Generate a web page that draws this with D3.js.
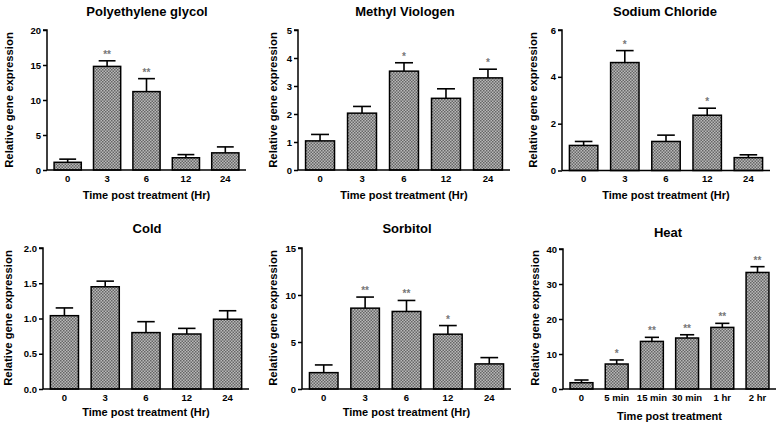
<!DOCTYPE html>
<html><head><meta charset="utf-8">
<script src="https://cdn.jsdelivr.net/npm/d3@7/dist/d3.min.js"></script>
<style>
html,body{margin:0;padding:0;background:#fff;}
svg{display:block;font-family:"Liberation Sans",Arial,sans-serif;}
</style></head>
<body>
<svg id="chart" width="776" height="428"></svg>
<script>
// ---------- data ----------
const hrCategories = ["0", "3", "6", "12", "24"];
const heatCategories = ["0", "5 min", "15 min", "30 min", "1 hr", "2 hr"];

const pegValues  = [1.1, 14.8, 11.2, 1.75, 2.45];
const pegErrors  = [0.45, 0.8, 1.85, 0.45, 0.85];
const pegStars   = ["", "**", "**", "", ""];
const pegTicks   = [0, 5, 10, 15, 20];

const mvValues   = [1.04, 2.03, 3.53, 2.56, 3.29];
const mvErrors   = [0.23, 0.24, 0.3, 0.34, 0.31];
const mvStars    = ["", "", "*", "", "*"];
const mvTicks    = [0, 1, 2, 3, 4, 5];

const naclValues = [1.07, 4.61, 1.24, 2.36, 0.55];
const naclErrors = [0.17, 0.51, 0.27, 0.3, 0.12];
const naclStars  = ["", "*", "", "*", ""];
const naclTicks  = [0, 2, 4, 6];

const coldValues = [1.04, 1.45, 0.8, 0.78, 0.99];
const coldErrors = [0.11, 0.08, 0.155, 0.08, 0.12];
const coldStars  = ["", "", "", "", ""];
const coldTicks  = [0, 0.5, 1.0, 1.5, 2.0];

const sorbValues = [1.74, 8.6, 8.25, 5.83, 2.67];
const sorbErrors = [0.82, 1.18, 1.17, 0.92, 0.67];
const sorbStars  = ["", "**", "**", "*", ""];
const sorbTicks  = [0, 5, 10, 15];

const heatValues = [1.8, 7.14, 13.6, 14.57, 17.6, 33.3];
const heatErrors = [0.77, 1.16, 1.16, 0.93, 1.16, 1.65];
const heatStars  = ["", "*", "**", "**", "**", "**"];
const heatTicks  = [0, 10, 20, 30, 40];

// ---------- layout ----------
const panels = [
  {title:"Polyethylene glycol", cats:hrCategories, vals:pegValues, errs:pegErrors, stars:pegStars, ticks:pegTicks, fmt:d3.format("d"),
   x0:47, x1:246, yTop:30, yBot:170, titleX:147, titleY:16, ytX:9, ytY:100, xtY:199, xlabel:"Time post treatment (Hr)", pi:0.31, po:0.18},
  {title:"Methyl Viologen", cats:hrCategories, vals:mvValues, errs:mvErrors, stars:mvStars, ticks:mvTicks, fmt:d3.format("d"),
   x0:298, x1:510, yTop:30, yBot:170, titleX:405, titleY:16, ytX:273, ytY:100, xtY:199, xlabel:"Time post treatment (Hr)", pi:0.31, po:0.18},
  {title:"Sodium Chloride", cats:hrCategories, vals:naclValues, errs:naclErrors, stars:naclStars, ticks:naclTicks, fmt:d3.format("d"),
   x0:562, x1:770, yTop:30, yBot:170.5, titleX:665, titleY:16, ytX:533, ytY:100, xtY:199, xlabel:"Time post treatment (Hr)", pi:0.31, po:0.18},
  {title:"Cold", cats:hrCategories, vals:coldValues, errs:coldErrors, stars:coldStars, ticks:coldTicks, fmt:d3.format(".1f"),
   x0:43, x1:249, yTop:248, yBot:389, titleX:147, titleY:233, ytX:8, ytY:318, xtY:416, xlabel:"Time post treatment (Hr)", pi:0.31, po:0.18},
  {title:"Sorbitol", cats:hrCategories, vals:sorbValues, errs:sorbErrors, stars:sorbStars, ticks:sorbTicks, fmt:d3.format("d"),
   x0:302, x1:511, yTop:248, yBot:389, titleX:407, titleY:233, ytX:273, ytY:318, xtY:416, xlabel:"Time post treatment (Hr)", pi:0.31, po:0.18},
  {title:"Heat", cats:heatCategories, vals:heatValues, errs:heatErrors, stars:heatStars, ticks:heatTicks, fmt:d3.format("d"),
   x0:563, x1:776, yTop:249, yBot:389, titleX:668, titleY:237, ytX:535, ytY:318, xtY:420, xlabel:"Time post treatment", pi:0.35, po:0.2}
];

const svg = d3.select("#chart");

// checker pattern (Prism-style fill)
const defs = svg.append("defs");
const pat = defs.append("pattern").attr("id","hatch").attr("patternUnits","userSpaceOnUse")
  .attr("width",3).attr("height",3);
pat.append("rect").attr("width",3).attr("height",3).attr("fill","#b8b8b8");
pat.append("rect").attr("x",0).attr("y",0).attr("width",1.5).attr("height",1.5).attr("fill","#666");
pat.append("rect").attr("x",1.5).attr("y",1.5).attr("width",1.5).attr("height",1.5).attr("fill","#666");

panels.forEach(p => {
  const g = svg.append("g");
  const x = d3.scaleBand().domain(p.cats).range([p.x0, p.x1]).paddingInner(p.pi).paddingOuter(p.po);
  const y = d3.scaleLinear().domain([p.ticks[0], p.ticks[p.ticks.length-1]]).range([p.yBot, p.yTop]);
  const data = p.cats.map((c,i)=>({c, v:p.vals[i], e:p.errs[i], s:p.stars[i]}));

  const bw = x.bandwidth();
  const capW = bw*0.62;
  data.forEach(d => {
    const cx = x(d.c) + bw/2;
    g.append("line").attr("x1",cx).attr("x2",cx).attr("y1",y(d.v)).attr("y2",y(d.v+d.e))
      .attr("stroke","#000").attr("stroke-width",1.6);
    g.append("line").attr("x1",cx-capW/2).attr("x2",cx+capW/2).attr("y1",y(d.v+d.e)).attr("y2",y(d.v+d.e))
      .attr("stroke","#000").attr("stroke-width",1.6);
    if (d.s) {
      g.append("text").attr("x",cx).attr("y",y(d.v+d.e)-3).attr("text-anchor","middle")
        .attr("font-size",10).attr("font-weight","bold").attr("fill","#777").text(d.s);
    }
  });

  g.selectAll("rect.bar").data(data).enter().append("rect").attr("class","bar")
    .attr("x",d=>x(d.c)).attr("width",bw)
    .attr("y",d=>y(d.v)).attr("height",d=>y(0)-y(d.v))
    .attr("fill","url(#hatch)").attr("stroke","#000").attr("stroke-width",1.5);

  const yAxis = d3.axisLeft(y).tickValues(p.ticks).tickFormat(p.fmt).tickSize(4).tickPadding(2);
  const ya = g.append("g").attr("transform",`translate(${p.x0},0)`).call(yAxis);
  ya.select(".domain").attr("stroke","#000").attr("stroke-width",1.5).attr("d",`M-4,${p.yTop}H0V${p.yBot}`);
  ya.selectAll(".tick line").attr("stroke","#000").attr("stroke-width",1.5);
  ya.selectAll("text").attr("font-size",9.5).attr("font-weight","bold").attr("fill","#000")
    .attr("font-family","'Liberation Sans',Arial,sans-serif");

  const xAxis = d3.axisBottom(x).tickSize(0).tickPadding(5);
  const xa = g.append("g").attr("transform",`translate(0,${p.yBot})`).call(xAxis);
  xa.select(".domain").attr("stroke","#000").attr("stroke-width",1.5).attr("d",`M${p.x0},0H${p.x1}`);
  xa.selectAll("text").attr("font-size",9.5).attr("font-weight","bold").attr("fill","#000")
    .attr("font-family","'Liberation Sans',Arial,sans-serif");

  g.append("text").attr("x",p.titleX).attr("y",p.titleY).attr("text-anchor","middle")
    .attr("font-size",13).attr("font-weight","bold").text(p.title);
  g.append("text").attr("x",(p.x0+p.x1)/2).attr("y",p.xtY).attr("text-anchor","middle")
    .attr("font-size",11).attr("font-weight","bold").text(p.xlabel);
  g.append("text").attr("transform",`translate(${p.ytX+4},${p.ytY}) rotate(-90)`).attr("text-anchor","middle")
    .attr("font-size",11.3).attr("font-weight","bold").text("Relative gene expression");
});
</script>
</body></html>
